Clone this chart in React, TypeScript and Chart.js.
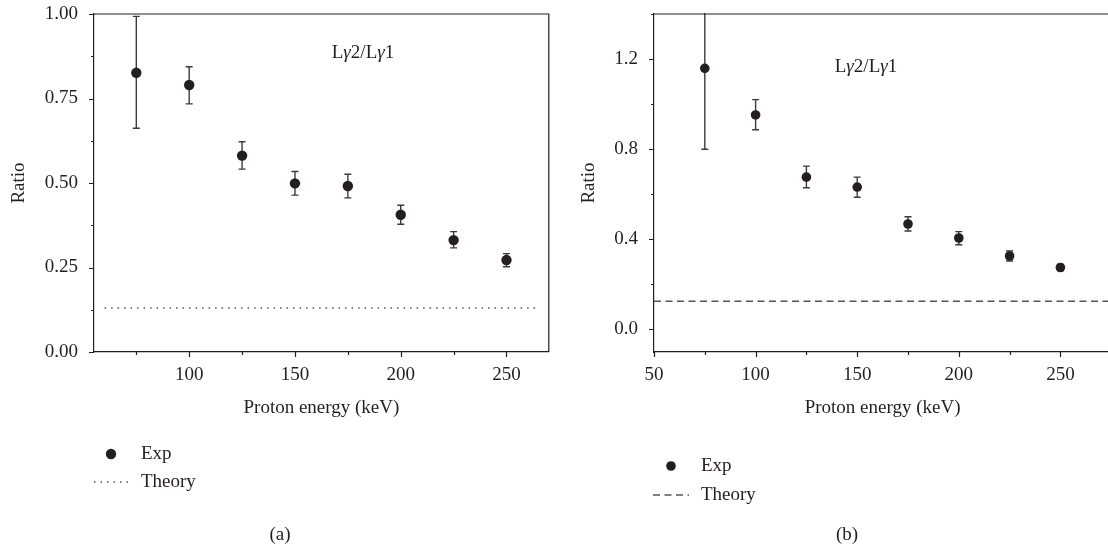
import React, { useEffect, useRef } from "react";
import { Chart, registerables } from "chart.js";

Chart.register(...registerables);

const INK = "#231f20";
const ERR = "#3c3a3b";
const THEORY = "#555556";
const FONT = "'Liberation Serif', 'DejaVu Serif', serif";
const FS = 19;

// ---------- Panel (a) ----------
const energyA = [75, 100, 125, 150, 175, 200, 225, 250];
const ratioA = [0.826, 0.79, 0.581, 0.499, 0.491, 0.406, 0.331, 0.272];
const lowA = [0.662, 0.734, 0.541, 0.464, 0.456, 0.378, 0.308, 0.252];
const highA = [0.993, 0.844, 0.622, 0.534, 0.526, 0.434, 0.356, 0.291];
const theoryEnergyA = [60, 265];
const theoryRatioA = [0.13, 0.13];
const xTicksA = [75, 100, 125, 150, 175, 200, 225, 250];
const xLabelsA = [100, 150, 200, 250];
const yTicksA = [0, 0.125, 0.25, 0.375, 0.5, 0.625, 0.75, 0.875, 1.0];
const yLabelsA = [0, 0.25, 0.5, 0.75, 1.0];

// ---------- Panel (b) ----------
const energyB = [75, 100, 125, 150, 175, 200, 225, 250];
const ratioB = [1.159, 0.952, 0.676, 0.632, 0.468, 0.406, 0.326, 0.275];
const lowB = [0.8, 0.886, 0.629, 0.587, 0.437, 0.376, 0.304, 0.262];
const highB = [1.52, 1.02, 0.725, 0.676, 0.5, 0.434, 0.348, 0.289];
const theoryEnergyB = [50, 275];
const theoryRatioB = [0.125, 0.125];
const xTicksB = [50, 75, 100, 125, 150, 175, 200, 225, 250, 275];
const xLabelsB = [50, 100, 150, 200, 250];
const yTicksB = [0, 0.2, 0.4, 0.6, 0.8, 1.0, 1.2, 1.4];
const yLabelsB = [0, 0.4, 0.8, 1.2];

const seriesNames = ["Exp", "Theory"];
const annotationParts = [
  { t: "L", italic: false },
  { t: "\u03b3", italic: true },
  { t: "2/L", italic: false },
  { t: "\u03b3", italic: true },
  { t: "1", italic: false },
];

type Spec = {
  energy: number[];
  ratio: number[];
  low: number[];
  high: number[];
  theoryX: number[];
  theoryY: number[];
  xMin: number;
  xMax: number;
  yMin: number;
  yMax: number;
  xTicks: number[];
  xLabels: number[];
  yTicks: number[];
  yLabels: number[];
  yDigits: number;
  dash: number[];
  radius: number;
  pad: { left: number; top: number; right: number; bottom: number };
  yWidth: number;
  xHeight: number;
  annot: { x: number; y: number };
  legend: { markerX: number; lineX0: number; lineX1: number; textX: number; y1: number; y2: number };
  caption: { text: string; x: number; y: number };
};

const isIn = (arr: number[], v: number) => arr.some((a) => Math.abs(a - v) < 1e-9);

function makePlugin(spec: Spec) {
  return {
    id: "decor",
    beforeDatasetsDraw(chart: any) {
      const { ctx, chartArea } = chart;
      const x = chart.scales.x;
      const y = chart.scales.y;
      ctx.save();
      ctx.beginPath();
      ctx.rect(chartArea.left, chartArea.top - 1, chartArea.right - chartArea.left, chartArea.bottom - chartArea.top + 1);
      ctx.clip();
      ctx.strokeStyle = ERR;
      ctx.lineWidth = 1.4;
      const cap = 3.5;
      spec.energy.forEach((e, i) => {
        const px = x.getPixelForValue(e);
        const yl = y.getPixelForValue(spec.low[i]);
        const yh = y.getPixelForValue(spec.high[i]);
        ctx.beginPath();
        ctx.moveTo(px, yl);
        ctx.lineTo(px, yh);
        ctx.moveTo(px - cap, yl);
        ctx.lineTo(px + cap, yl);
        ctx.moveTo(px - cap, yh);
        ctx.lineTo(px + cap, yh);
        ctx.stroke();
      });
      ctx.restore();
    },
    afterDraw(chart: any) {
      const { ctx, chartArea } = chart;
      const x = chart.scales.x;
      const y = chart.scales.y;
      ctx.save();
      // frame top / right
      ctx.strokeStyle = INK;
      ctx.lineWidth = 1.2;
      ctx.beginPath();
      ctx.moveTo(chartArea.left, chartArea.top);
      ctx.lineTo(chartArea.right, chartArea.top);
      ctx.lineTo(chartArea.right, chartArea.bottom);
      ctx.stroke();
      // ticks
      ctx.beginPath();
      x.ticks.forEach((t: any) => {
        const px = Math.round(x.getPixelForValue(t.value)) + 0.5;
        const len = isIn(spec.xLabels, t.value) ? 5 : 3;
        ctx.moveTo(px, chartArea.bottom);
        ctx.lineTo(px, chartArea.bottom + len);
      });
      y.ticks.forEach((t: any) => {
        const py = Math.round(y.getPixelForValue(t.value)) + 0.5;
        const len = isIn(spec.yLabels, t.value) ? 5 : 3;
        ctx.moveTo(chartArea.left, py);
        ctx.lineTo(chartArea.left - len, py);
      });
      ctx.stroke();

      ctx.fillStyle = INK;
      ctx.textBaseline = "middle";
      // annotation
      const fonts = annotationParts.map((p) => `${p.italic ? "italic " : ""}${FS}px ${FONT}`);
      let total = 0;
      const widths = annotationParts.map((p, i) => {
        ctx.font = fonts[i];
        const w = ctx.measureText(p.t).width;
        total += w;
        return w;
      });
      let ax = spec.annot.x - total / 2;
      ctx.textAlign = "left";
      annotationParts.forEach((p, i) => {
        ctx.font = fonts[i];
        ctx.fillText(p.t, ax, spec.annot.y);
        ax += widths[i];
      });

      // legend
      const ds = chart.data.datasets;
      const L = spec.legend;
      ctx.beginPath();
      ctx.fillStyle = ds[0].pointBackgroundColor;
      ctx.arc(L.markerX, L.y1, spec.radius, 0, Math.PI * 2);
      ctx.fill();
      ctx.beginPath();
      ctx.strokeStyle = ds[1].borderColor;
      ctx.lineWidth = ds[1].borderWidth;
      ctx.setLineDash(ds[1].borderDash);
      ctx.moveTo(L.lineX0, L.y2);
      ctx.lineTo(L.lineX1, L.y2);
      ctx.stroke();
      ctx.setLineDash([]);
      ctx.fillStyle = INK;
      ctx.font = `${FS}px ${FONT}`;
      ctx.fillText(ds[0].label, L.textX, L.y1);
      ctx.fillText(ds[1].label, L.textX, L.y2);

      // caption
      ctx.textAlign = "center";
      ctx.fillText(spec.caption.text, spec.caption.x, spec.caption.y);
      ctx.restore();
    },
  };
}

function buildConfig(spec: Spec): any {
  const tickFont = { family: FONT, size: FS };
  return {
    type: "scatter",
    data: {
      datasets: [
        {
          label: seriesNames[0],
          data: spec.energy.map((e, i) => ({ x: e, y: spec.ratio[i] })),
          pointRadius: spec.radius,
          pointBackgroundColor: INK,
          pointBorderWidth: 0,
          showLine: false,
        },
        {
          label: seriesNames[1],
          type: "line",
          data: spec.theoryX.map((e, i) => ({ x: e, y: spec.theoryY[i] })),
          borderColor: THEORY,
          borderWidth: 1.5,
          borderDash: spec.dash,
          pointRadius: 0,
          fill: false,
          showLine: true,
        },
      ],
    },
    options: {
      responsive: false,
      animation: false,
      events: [],
      layout: { padding: spec.pad },
      plugins: { legend: { display: false }, tooltip: { enabled: false } },
      scales: {
        x: {
          type: "linear",
          min: spec.xMin,
          max: spec.xMax,
          afterBuildTicks: (scale: any) => {
            scale.ticks = spec.xTicks.map((v) => ({ value: v }));
          },
          afterFit: (scale: any) => {
            scale.height = spec.xHeight;
            scale.paddingLeft = 0;
            scale.paddingRight = 0;
          },
          ticks: {
            autoSkip: false,
            maxRotation: 0,
            padding: 12,
            color: INK,
            font: tickFont,
            callback: (v: number) => (isIn(spec.xLabels, v) ? String(v) : ""),
          },
          grid: { display: false, drawTicks: false },
          border: { display: true, color: INK, width: 1.2 },
          title: {
            display: true,
            text: "Proton energy (keV)",
            color: INK,
            font: { family: FONT, size: FS },
            padding: 0,
          },
        },
        y: {
          type: "linear",
          min: spec.yMin,
          max: spec.yMax,
          afterBuildTicks: (scale: any) => {
            scale.ticks = spec.yTicks.map((v) => ({ value: v }));
          },
          afterFit: (scale: any) => {
            scale.width = spec.yWidth;
            scale.paddingTop = 0;
            scale.paddingBottom = 0;
          },
          ticks: {
            autoSkip: false,
            padding: 16,
            color: INK,
            font: tickFont,
            callback: (v: number) => (isIn(spec.yLabels, v) ? v.toFixed(spec.yDigits) : ""),
          },
          grid: { display: false, drawTicks: false },
          border: { display: true, color: INK, width: 1.2 },
          title: {
            display: true,
            text: "Ratio",
            color: INK,
            font: { family: FONT, size: FS },
            padding: 0,
          },
        },
      },
    },
    plugins: [makePlugin(spec)],
  };
}

const specA: Spec = {
  energy: energyA,
  ratio: ratioA,
  low: lowA,
  high: highA,
  theoryX: theoryEnergyA,
  theoryY: theoryRatioA,
  xMin: 55,
  xMax: 270,
  yMin: 0,
  yMax: 1,
  xTicks: xTicksA,
  xLabels: xLabelsA,
  yTicks: yTicksA,
  yLabels: yLabelsA,
  yDigits: 2,
  dash: [1.5, 5],
  radius: 5.2,
  pad: { left: 8, top: 14, right: 2, bottom: 133 },
  yWidth: 86,
  xHeight: 67,
  annot: { x: 363, y: 53 },
  legend: { markerX: 111, lineX0: 94, lineX1: 129, textX: 141, y1: 454, y2: 482 },
  caption: { text: "(a)", x: 280, y: 535 },
};

const specB: Spec = {
  energy: energyB,
  ratio: ratioB,
  low: lowB,
  high: highB,
  theoryX: theoryEnergyB,
  theoryY: theoryRatioB,
  xMin: 50,
  xMax: 275,
  yMin: -0.1,
  yMax: 1.4,
  xTicks: xTicksB,
  xLabels: xLabelsB,
  yTicks: yTicksB,
  yLabels: yLabelsB,
  yDigits: 1,
  dash: [7, 4.5],
  radius: 4.8,
  pad: { left: 24, top: 14, right: 3, bottom: 133 },
  yWidth: 76,
  xHeight: 67,
  annot: { x: 312, y: 67 },
  legend: { markerX: 117, lineX0: 99, lineX1: 135, textX: 147, y1: 466, y2: 495 },
  caption: { text: "(b)", x: 293, y: 535 },
};

function Panel({ spec, left, width }: { spec: Spec; left: number; width: number }) {
  const ref = useRef<HTMLCanvasElement>(null);
  useEffect(() => {
    if (!ref.current) return;
    const chart = new Chart(ref.current, buildConfig(spec));
    return () => chart.destroy();
  }, [spec]);
  return (
    <canvas
      ref={ref}
      width={width}
      height={552}
      style={{ position: "absolute", left, top: 0, width, height: 552, display: "block" }}
    />
  );
}

export default function App() {
  return (
    <div
      style={{
        position: "fixed",
        left: 0,
        top: 0,
        width: 1108,
        height: 552,
        overflow: "hidden",
        background: "#ffffff",
      }}
    >
      <Panel spec={specA} left={0} width={554} />
      <Panel spec={specB} left={554} width={562} />
    </div>
  );
}
